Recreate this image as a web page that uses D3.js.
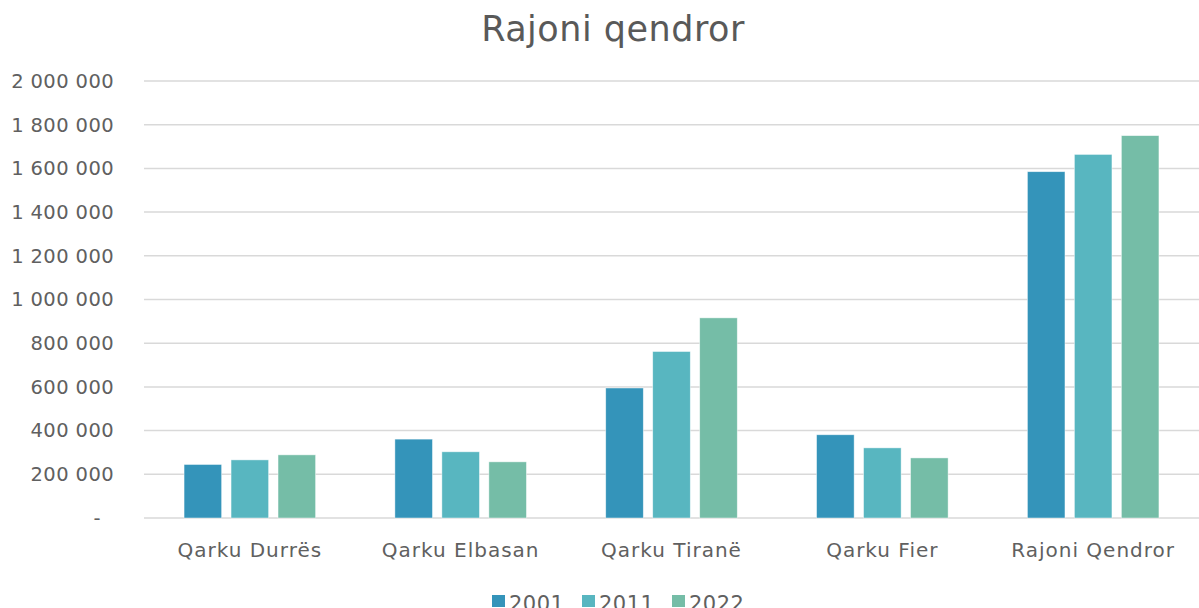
<!DOCTYPE html>
<html>
<head>
<meta charset="utf-8">
<script src="https://cdn.jsdelivr.net/npm/d3@7"></script>
<style>
  body { margin: 0; background: #fff; }
  svg { display: block; font-family: "DejaVu Sans", sans-serif; }
</style>
</head>
<body>
<div id="chart"></div>
<script>
// chart values
var categories = ["Qarku Durrës", "Qarku Elbasan", "Qarku Tiranë", "Qarku Fier", "Rajoni Qendror"];
var years = ["2001", "2011", "2022"];
var values2001 = [245000, 361000, 595000, 381000, 1585000];
var values2011 = [266000, 303000, 762000, 321000, 1664000];
var values2022 = [289000, 257000, 916000, 275000, 1750000];
var yTicks = [0, 200000, 400000, 600000, 800000, 1000000, 1200000, 1400000, 1600000, 1800000, 2000000];
var colors = ["#3494BA", "#58B6C0", "#75BDA7"];

var width = 1199, height = 608;
var margin = {top: 81, right: 0, bottom: 90, left: 144};

var svg = d3.select("#chart").append("svg")
    .attr("width", width)
    .attr("height", height);

// title
svg.append("text")
    .attr("x", 613)
    .attr("y", 41)
    .attr("text-anchor", "middle")
    .attr("fill", "#595959")
    .style("font-size", "35px")
    .style("letter-spacing", "0.5px")
    .text("Rajoni qendror");

var x0 = d3.scaleBand()
    .domain(categories)
    .range([margin.left, width - margin.right])
    .paddingInner(0.376)
    .paddingOuter(0.19);

var x1 = d3.scaleBand()
    .domain(years)
    .range([0, x0.bandwidth()])
    .paddingInner(0.2);

var y = d3.scaleLinear()
    .domain([0, 2000000])
    .range([height - margin.bottom, margin.top]);

// gridlines
svg.append("g")
    .selectAll("line")
    .data(yTicks)
    .enter().append("line")
    .attr("x1", margin.left)
    .attr("x2", width - margin.right)
    .attr("y1", function(d){ return y(d); })
    .attr("y2", function(d){ return y(d); })
    .attr("stroke", "#d9d9d9")
    .attr("stroke-width", 1.5);

// y tick labels
var fmt = function(d){
    if (d === 0) return "-";
    return d3.format(",")(d).replace(/,/g, " ");
};
svg.append("g")
    .selectAll("text")
    .data(yTicks)
    .enter().append("text")
    .attr("x", function(d){ return d === 0 ? 101 : 114; })
    .attr("y", function(d){ return y(d); })
    .attr("dy", "0.35em")
    .attr("text-anchor", "end")
    .attr("fill", "#606060")
    .style("font-size", "19.5px")
    .style("letter-spacing", "0.4px")
    .text(fmt);

// bars
var series = [values2001, values2011, values2022];
var rows = categories.map(function(c, i){
    return {cat: c, vals: years.map(function(yr, j){ return {year: yr, value: series[j][i], color: colors[j]}; })};
});

var groups = svg.append("g")
    .selectAll("g")
    .data(rows)
    .enter().append("g")
    .attr("transform", function(d){ return "translate(" + x0(d.cat) + ",0)"; });

groups.selectAll("rect")
    .data(function(d){ return d.vals; })
    .enter().append("rect")
    .attr("x", function(d){ return x1(d.year); })
    .attr("y", function(d){ return y(d.value); })
    .attr("width", x1.bandwidth())
    .attr("height", function(d){ return y(0) - y(d.value); })
    .attr("fill", function(d){ return d.color; })
    .attr("stroke", "#ffffff")
    .attr("stroke-opacity", 0.6)
    .attr("stroke-width", 0.75);

// category labels
svg.append("g")
    .selectAll("text")
    .data(categories)
    .enter().append("text")
    .attr("x", function(d){ return x0(d) + x0.bandwidth() / 2; })
    .attr("y", 557)
    .attr("text-anchor", "middle")
    .attr("fill", "#606060")
    .style("font-size", "20px")
    .style("letter-spacing", "1px")
    .text(function(d){ return d; });

// legend
var legendX = [492, 582, 672];
var legend = svg.append("g")
    .selectAll("g")
    .data(years)
    .enter().append("g")
    .attr("transform", function(d, i){ return "translate(" + legendX[i] + ",0)"; });

legend.append("rect")
    .attr("x", 0)
    .attr("y", 595)
    .attr("width", 13)
    .attr("height", 12)
    .attr("fill", function(d, i){ return colors[i]; });

legend.append("text")
    .attr("x", 17)
    .attr("y", 611)
    .attr("fill", "#606060")
    .style("font-size", "21px")
    .style("letter-spacing", "0.5px")
    .text(function(d){ return d; });
</script>
</body>
</html>
